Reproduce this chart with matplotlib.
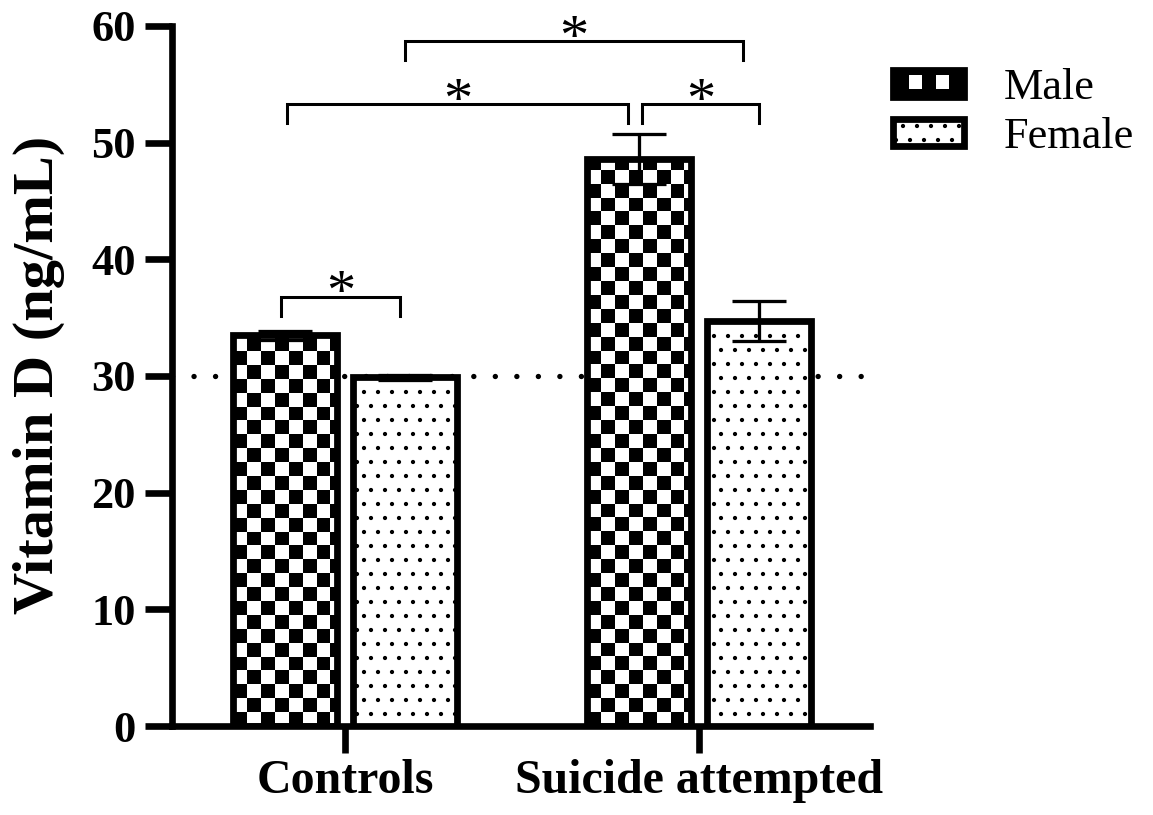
import numpy as np
import matplotlib
matplotlib.use('Agg')
import matplotlib.pyplot as plt
from matplotlib.patches import Rectangle
from matplotlib.legend_handler import HandlerBase

# Data
groups = ['Controls', 'Suicide attempted']
sexes = ['Male', 'Female']
male_mean = [33.5, 48.6]
male_err = [0.4, 2.1]
female_mean = [29.9, 34.7]
female_err = [0.2, 1.7]
threshold = 30

# significance brackets: (group, sex) vs (group, sex), bracket height, label
comparisons = [
    ((0, 0), (0, 1), 36.8, '*'),
    ((0, 0), (1, 0), 53.3, '*'),
    ((1, 0), (1, 1), 53.3, '*'),
    ((0, 1), (1, 1), 58.7, '*'),
]
# small horizontal nudges of the bracket legs so they don't touch
leg_nudge = [(-0.01, -0.015), (0.005, -0.03), (0.01, 0.0), (0.0, -0.045)]

DPI = 84
plt.rcParams['font.family'] = ['Liberation Serif', 'DejaVu Serif']
plt.rcParams['hatch.linewidth'] = 1.2

fig = plt.figure(figsize=(1153 / DPI, 815 / DPI), dpi=DPI)
ax = fig.add_axes([172 / 1153, 1 - 726 / 815, 698 / 1153, 700 / 815])

x = np.arange(len(groups)) + 1.0
offset = 0.17
width = 0.294
edge_lw = 5.8

# dotted reference line at 30 ng/mL
ax.axhline(threshold, color='black', lw=4.6, dashes=(0.01, 4.0),
           dash_capstyle='round', zorder=1)

male_bars = ax.bar(x - offset, male_mean, width, facecolor='none',
                   edgecolor='black', linewidth=edge_lw, zorder=3)
female_bars = ax.bar(x + offset, female_mean, width, facecolor='white',
                     edgecolor='black', linewidth=edge_lw, hatch='.', zorder=3)


def checker_fill(bar, cell_w=0.039, cell_h=1.19):
    # checkerboard pattern clipped to the bar rectangle
    x0, y0 = bar.get_x(), bar.get_y()
    nx = int(np.ceil(bar.get_width() / cell_w))
    ny = int(np.ceil(bar.get_height() / cell_h))
    board = np.add.outer(np.arange(ny), np.arange(nx)) % 2
    img = ax.imshow(board, cmap='gray', vmin=0, vmax=1, origin='lower',
                    extent=(x0, x0 + nx * cell_w, y0, y0 + ny * cell_h),
                    interpolation='nearest', aspect='auto', zorder=2.5)
    img.set_clip_path(bar)


for b in male_bars:
    checker_fill(b)

err_kw = dict(fmt='none', ecolor='black', elinewidth=2.8, capsize=23,
              capthick=2.8, zorder=4)
ax.errorbar(x - offset, male_mean, yerr=male_err, **err_kw)
ax.errorbar(x + offset, female_mean, yerr=female_err, **err_kw)

# significance brackets
centers = np.array([x - offset, x + offset]).T  # [group, sex]
leg_len = 1.65
for (a, b, h, lab), (dl, dr) in zip(comparisons, leg_nudge):
    x1 = centers[a] + dl
    x2 = centers[b] + dr
    ax.plot([x1, x1, x2, x2], [h - leg_len, h, h, h - leg_len], color='black',
            lw=2.6, solid_joinstyle='miter', clip_on=False, zorder=5)
    ax.annotate(lab, ((x1 + x2) / 2, h), xytext=(0, -11), textcoords='offset points',
                ha='center', va='baseline', fontsize=50, annotation_clip=False)

ax.set_xlim(0.511, 2.483)
ax.set_ylim(0, 60)

for s in ['top', 'right']:
    ax.spines[s].set_visible(False)
for s in ['left', 'bottom']:
    ax.spines[s].set_linewidth(5.7)

ax.set_yticks(np.arange(0, 61, 10))
ax.set_xticks(x)
ax.set_xticklabels(groups, fontsize=41, fontweight='bold')
ax.tick_params(axis='y', length=23, width=5.7, pad=8, labelsize=38)
ax.tick_params(axis='x', length=23, width=5.7, pad=5)
for t in ax.get_yticklabels():
    t.set_fontweight('bold')

fig.text(39 / 1153, 1 - 375 / 815, 'Vitamin D (ng/mL)', rotation=90,
         ha='center', va='center', fontsize=50, fontweight='bold')


class CheckerHandler(HandlerBase):
    def create_artists(self, legend, orig_handle, xdescent, ydescent,
                       width, height, fontsize, trans):
        x0, y0 = -xdescent, -ydescent
        arts = [Rectangle((x0, y0), width, height, facecolor='black',
                          edgecolor='black', lw=edge_lw, transform=trans)]
        s = height * 0.5
        for f in (0.32, 0.7):
            arts.append(Rectangle((x0 + width * f - s / 2, y0 + height * 0.55 - s / 2),
                                  s, s, facecolor='white', lw=0, transform=trans))
        return arts


male_proxy = Rectangle((0, 0), 1, 1)
ax.legend([male_proxy, female_bars[0]], sexes,
          handler_map={male_proxy: CheckerHandler()},
          loc='upper left', bbox_to_anchor=(893 / 1153, 1 - 68 / 815),
          bbox_transform=fig.transFigure, frameon=False, fontsize=38,
          handlelength=1.6, handleheight=0.55, handletextpad=0.9,
          labelspacing=0.2, borderpad=0, borderaxespad=0)

fig.savefig('out.png', dpi=DPI)
